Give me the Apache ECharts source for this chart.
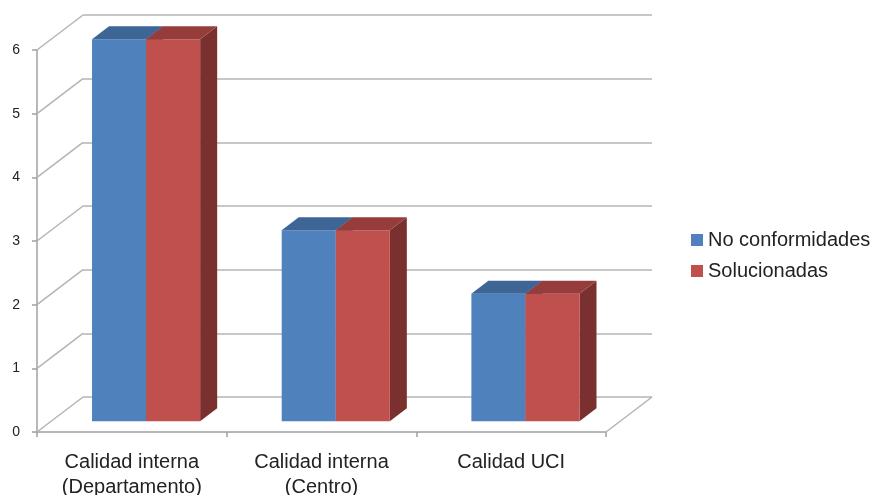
<!DOCTYPE html>
<html><head><meta charset="utf-8">
<script src="https://cdn.jsdelivr.net/npm/echarts@6/dist/echarts.min.js"></script>
<style>html,body{margin:0;padding:0;background:#fff}#c{width:877px;height:495px}</style>
</head><body><div id="c"></div>
<script>
const categories = ['Calidad interna\n(Departamento)', 'Calidad interna\n(Centro)', 'Calidad UCI'];
const seriesNames = ['No conformidades', 'Solucionadas'];
const noConformidades = [6, 3, 2];
const solucionadas = [6, 3, 2];
const yTicks = [0, 1, 2, 3, 4, 5, 6];

const DX = 46, DY = -35;           // depth of the 3D walls (px)
const BAR_F0 = 0.31, BAR_F1 = 0.68; // bar depth range as a fraction of the wall depth
const BAR_W = 0.285;               // bar width as a fraction of the category width
const palette = [
  {front: '#4F81BD', top: '#3D6596', side: '#385D8A'},
  {front: '#C0504D', top: '#963D3B', side: '#7A302E'}
];
const GRID_COLOR = '#B4B4B4';
const FONT = "'Liberation Sans', Arial, sans-serif";

const chart = echarts.init(document.getElementById('c'), null, {renderer: 'canvas'});

function barRender(sIdx) {
  return function (params, api) {
    const i = api.value(0), v = api.value(1);
    const base = api.coord([i, 0]);
    const top = api.coord([i, v]);
    const catW = api.size([1, 0])[0];
    const w = catW * BAR_W;
    const ox = DX * BAR_F0, oy = DY * BAR_F0;
    const ddx = DX * (BAR_F1 - BAR_F0), ddy = DY * (BAR_F1 - BAR_F0);
    const x0 = base[0] + ox + (sIdx === 0 ? -w : 0);
    const x1 = x0 + w;
    const yb = base[1] + oy, yt = top[1] + oy;
    const c = palette[sIdx];
    return {type: 'group', children: [
      {type: 'polygon', shape: {points: [[x1, yb], [x1 + ddx, yb + ddy], [x1 + ddx, yt + ddy], [x1, yt]]}, style: {fill: c.side}},
      {type: 'rect', shape: {x: x0, y: yt, width: w, height: yb - yt}, style: {fill: c.front}},
      {type: 'polygon', shape: {points: [[x0, yt], [x1, yt], [x1 + ddx, yt + ddy], [x0 + ddx, yt + ddy]]}, style: {fill: c.top}}
    ]};
  };
}

function wallRender(params, api) {
  const v = api.value(1);
  const cs = params.coordSys;
  const y = api.coord([0, v])[1];
  const children = [
    {type: 'line', shape: {x1: cs.x, y1: y, x2: cs.x + DX, y2: y + DY}, style: {stroke: GRID_COLOR, lineWidth: 1.5}}
  ];
  if (v === 0) {
    const xr = cs.x + cs.width;
    children.push({type: 'line', shape: {x1: xr, y1: y, x2: xr + DX, y2: y + DY}, style: {stroke: GRID_COLOR, lineWidth: 1.5}});
  }
  return {type: 'group', children: children};
}

const option = {
  backgroundColor: '#ffffff',
  animation: false,
  textStyle: {fontFamily: FONT},
  legend: {
    data: seriesNames,
    orient: 'vertical',
    left: 686, top: 225,
    icon: 'rect', itemWidth: 12, itemHeight: 12, itemGap: 11,
    textStyle: {fontSize: 20, color: '#222', fontFamily: FONT}
  },
  grid: [
    {left: 37, right: 271, top: 50, bottom: 63, outerBoundsMode: 'none', containLabel: false},
    {left: 83, right: 225, top: 15, bottom: 98, outerBoundsMode: 'none', containLabel: false}
  ],
  xAxis: [
    {
      type: 'category', gridIndex: 0, data: categories,
      axisLine: {lineStyle: {color: '#A0A0A0', width: 1.5}},
      axisTick: {show: true, length: 5, lineStyle: {color: '#A0A0A0', width: 1.5}},
      axisLabel: {interval: 0, fontSize: 20, lineHeight: 25, color: '#222', margin: 18, fontFamily: FONT},
      splitLine: {show: false}
    },
    {
      type: 'category', gridIndex: 1, data: categories, show: false
    }
  ],
  yAxis: [
    {
      type: 'value', gridIndex: 0, min: 0, max: 6, interval: 1,
      axisLine: {show: true, lineStyle: {color: '#A0A0A0', width: 1.5}},
      axisTick: {show: true, length: 5, lineStyle: {color: '#A0A0A0', width: 1.5}},
      axisLabel: {fontSize: 14, color: '#222', margin: 17, fontFamily: FONT},
      splitLine: {show: false}
    },
    {
      type: 'value', gridIndex: 1, min: 0, max: 6, interval: 1,
      axisLine: {show: false}, axisTick: {show: false}, axisLabel: {show: false},
      splitLine: {show: true, lineStyle: {color: GRID_COLOR, width: 1.5}}
    }
  ],
  series: [
    {
      type: 'custom', name: '_walls', xAxisIndex: 0, yAxisIndex: 0, z: 1,
      data: yTicks.map(v => [0, v]), renderItem: wallRender, silent: true,
      encode: {x: 0, y: 1}
    },
    {
      type: 'custom', name: seriesNames[0], xAxisIndex: 0, yAxisIndex: 0, z: 2,
      itemStyle: {color: palette[0].front},
      data: noConformidades.map((v, i) => [i, v]), renderItem: barRender(0),
      encode: {x: 0, y: 1}
    },
    {
      type: 'custom', name: seriesNames[1], xAxisIndex: 0, yAxisIndex: 0, z: 2,
      itemStyle: {color: palette[1].front},
      data: solucionadas.map((v, i) => [i, v]), renderItem: barRender(1),
      encode: {x: 0, y: 1}
    }
  ]
};
chart.setOption(option);
</script>
</body></html>
